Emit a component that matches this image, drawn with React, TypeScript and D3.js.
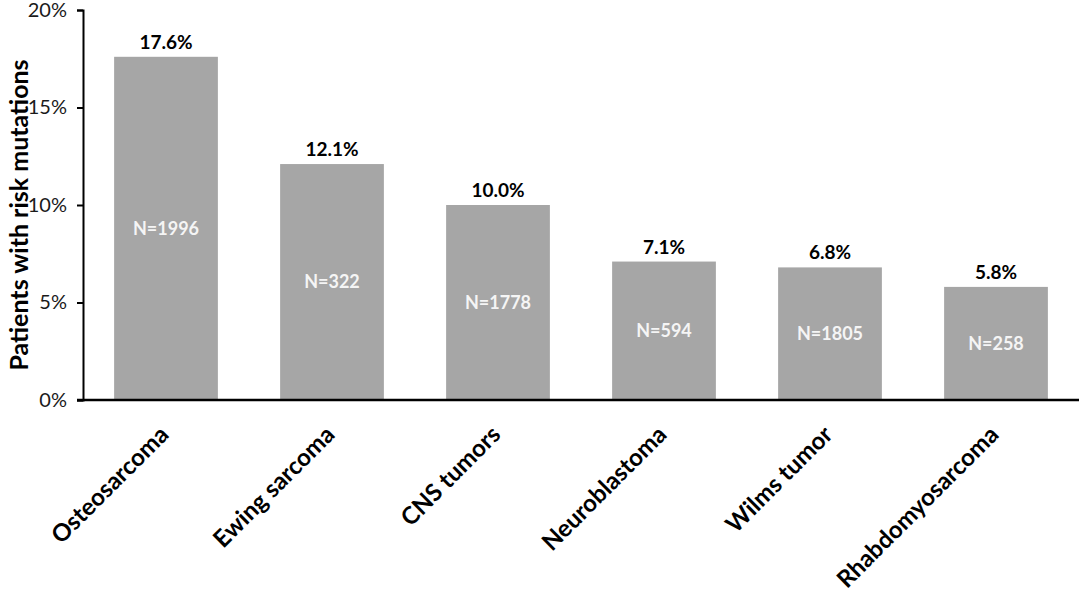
import * as d3 from "d3";
import { useEffect, useRef } from "react";

const categories = [
  "Osteosarcoma",
  "Ewing sarcoma",
  "CNS tumors",
  "Neuroblastoma",
  "Wilms tumor",
  "Rhabdomyosarcoma",
];
const percentages = [17.6, 12.1, 10.0, 7.1, 6.8, 5.8];
const patientCounts = [1996, 322, 1778, 594, 1805, 258];
const yTicks = [0, 5, 10, 15, 20];

const FONT = "Lato, 'Open Sans', sans-serif";

function App() {
  const ref = useRef<SVGSVGElement | null>(null);

  useEffect(() => {
    const width = 1084,
      height = 604;
    // plot area
    const margin = { top: 10, right: 5, bottom: 204, left: 83 };

    const svg = d3.select(ref.current);
    svg.selectAll("*").remove();
    svg.attr("width", width).attr("height", height);

    const x = d3
      .scaleBand()
      .domain(categories)
      .range([margin.left, width - margin.right])
      .paddingInner(0.375)
      .paddingOuter(0.1875);

    const y = d3
      .scaleLinear()
      .domain([0, 20])
      .range([height - margin.bottom, margin.top]);

    // bars
    svg
      .append("g")
      .selectAll("rect")
      .data(categories)
      .join("rect")
      .attr("x", (d) => x(d)!)
      .attr("y", (_, i) => y(percentages[i]))
      .attr("width", x.bandwidth())
      .attr("height", (_, i) => y(0) - y(percentages[i]))
      .attr("fill", "#a6a6a6");

    // y axis
    const yAxis = d3
      .axisLeft(y)
      .tickValues(yTicks)
      .tickSize(6)
      .tickPadding(10)
      .tickFormat((d) => d + "%");
    const gy = svg
      .append("g")
      .attr("transform", `translate(${margin.left},0)`)
      .call(yAxis);
    gy.select(".domain").attr("stroke", "#000").attr("stroke-width", 2);
    gy.selectAll(".tick line").attr("stroke", "#000").attr("stroke-width", 2);
    gy.selectAll(".tick text")
      .attr("font-family", FONT)
      .attr("font-size", 20)
      .attr("fill", "#1a1a1a");

    // x axis line
    svg
      .append("line")
      .attr("x1", margin.left - 6)
      .attr("x2", width - margin.right)
      .attr("y1", y(0))
      .attr("y2", y(0))
      .attr("stroke", "#000")
      .attr("stroke-width", 2.5);

    // category labels, rotated
    svg
      .append("g")
      .selectAll("text")
      .data(categories)
      .join("text")
      .attr(
        "transform",
        (d) => `translate(${x(d)! + x.bandwidth() / 2 - 8},${y(0) + 24}) rotate(-45)`
      )
      .attr("text-anchor", "end")
      .attr("dy", "0.71em")
      .attr("font-family", FONT)
      .attr("font-weight", "bold")
      .attr("font-size", 24)
      .attr("fill", "#000")
      .text((d) => d);

    // value labels above bars
    svg
      .append("g")
      .selectAll("text")
      .data(categories)
      .join("text")
      .attr("x", (d) => x(d)! + x.bandwidth() / 2)
      .attr("y", (_, i) => y(percentages[i]) - 8)
      .attr("text-anchor", "middle")
      .attr("font-family", FONT)
      .attr("font-weight", "bold")
      .attr("font-size", 19)
      .attr("fill", "#000")
      .text((_, i) => percentages[i].toFixed(1) + "%");

    // N labels inside bars
    svg
      .append("g")
      .selectAll("text")
      .data(categories)
      .join("text")
      .attr("x", (d) => x(d)! + x.bandwidth() / 2)
      .attr("y", (_, i) => (y(percentages[i]) + y(0)) / 2)
      .attr("dy", "0.35em")
      .attr("text-anchor", "middle")
      .attr("font-family", FONT)
      .attr("font-weight", "bold")
      .attr("font-size", 18)
      .attr("fill", "#f5f5f5")
      .text((_, i) => "N=" + patientCounts[i]);

    // y axis title
    svg
      .append("text")
      .attr("transform", `translate(19,${(y(0) + y(20)) / 2 + 10}) rotate(-90)`)
      .attr("text-anchor", "middle")
      .attr("dy", "0.35em")
      .attr("font-family", FONT)
      .attr("font-weight", "bold")
      .attr("font-size", 25)
      .attr("fill", "#000")
      .text("Patients with risk mutations");
  }, []);

  return (
    <svg
      ref={ref}
      style={{ position: "absolute", left: 0, top: 0, background: "#fff" }}
    ></svg>
  );
}

export default App;
